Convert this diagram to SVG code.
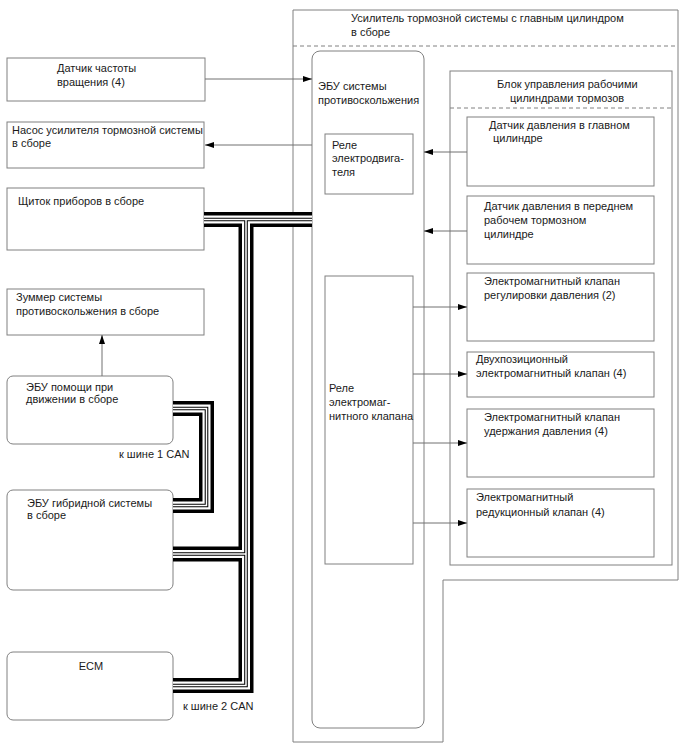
<svg xmlns="http://www.w3.org/2000/svg" width="688" height="755" viewBox="0 0 688 755">
<defs>
<style>
.b{fill:#fff;stroke:#808080;stroke-width:1}
.d{fill:none;stroke:#808080;stroke-width:1;stroke-dasharray:4 3}
.t{font-family:"Liberation Sans",Arial,sans-serif;font-size:11px;fill:#1a1a1a}
.c{fill:none;stroke:#707070;stroke-width:1}
.k1{fill:none;stroke:#000;stroke-width:15;stroke-linejoin:miter}
.k2{fill:none;stroke:#fff;stroke-width:8;stroke-linejoin:miter}
.k3{fill:none;stroke:#000;stroke-width:3.6;stroke-linejoin:miter}
.k4{fill:none;stroke:#fff;stroke-width:1.5;stroke-linejoin:miter}
</style>
<marker id="ah" markerWidth="9" markerHeight="6" refX="9" refY="3" orient="auto" markerUnits="userSpaceOnUse">
<path d="M0,0 L9,3 L0,6 Z" fill="#000"/>
</marker>
</defs>
<rect width="688" height="755" fill="#fff"/>

<g id="booster">
<path class="b" d="M293,10 H678 V580 H443 V742 H293 Z"/>
<path class="d" d="M293,46 H678"/>
<text class="t" x="351" y="22">Усилитель тормозной системы с главным цилиндром</text>
<text class="t" x="351" y="36">в сборе</text>
</g>

<g id="ecu-skid">
<rect class="b" x="312" y="51" width="112" height="677" rx="8"/>
<text class="t" x="318" y="90">ЭБУ системы</text>
<text class="t" x="318" y="104">противоскольжения</text>
</g>

<g id="brake-block">
<rect class="b" x="450" y="71" width="222" height="494"/>
<path class="d" d="M450,108 H672"/>
<text class="t" x="497" y="88">Блок управления рабочими</text>
<text class="t" x="510" y="102">цилиндрами тормозов</text>
</g>

<g id="motor-relay">
<rect class="b" x="325" y="134" width="88" height="60"/>
<text class="t" x="332" y="149">Реле</text>
<text class="t" x="332" y="162">электродвига-</text>
<text class="t" x="332" y="176">теля</text>
</g>

<g id="solenoid-relay">
<rect class="b" x="325" y="276" width="88" height="288"/>
<text class="t" x="329" y="392">Реле</text>
<text class="t" x="329" y="406">электромаг-</text>
<text class="t" x="329" y="420">нитного клапана</text>
</g>

<g id="master-sensor">
<rect class="b" x="467" y="117" width="187" height="69"/>
<text class="t" x="489" y="129">Датчик давления в главном</text>
<text class="t" x="493" y="142">цилиндре</text>
</g>

<g id="front-sensor">
<rect class="b" x="467" y="196" width="187" height="68"/>
<text class="t" x="484" y="210">Датчик давления в переднем</text>
<text class="t" x="484" y="224">рабочем тормозном</text>
<text class="t" x="484" y="238">цилиндре</text>
</g>

<g id="reg-valve">
<rect class="b" x="467" y="273" width="187" height="68"/>
<text class="t" x="484" y="285">Электромагнитный клапан</text>
<text class="t" x="484" y="299">регулировки давления (2)</text>
</g>

<g id="two-pos-valve">
<rect class="b" x="467" y="352" width="187" height="45"/>
<text class="t" x="476" y="363">Двухпозиционный</text>
<text class="t" x="476" y="377">электромагнитный клапан (4)</text>
</g>

<g id="hold-valve">
<rect class="b" x="467" y="409" width="187" height="68"/>
<text class="t" x="484" y="421">Электромагнитный клапан</text>
<text class="t" x="484" y="435">удержания давления (4)</text>
</g>

<g id="reduce-valve">
<rect class="b" x="467" y="489" width="187" height="68"/>
<text class="t" x="476" y="501">Электромагнитный</text>
<text class="t" x="476" y="516">редукционный клапан (4)</text>
</g>

<g id="speed-sensor">
<rect class="b" x="7" y="58" width="198" height="43"/>
<text class="t" x="57" y="72">Датчик частоты</text>
<text class="t" x="57" y="86">вращения (4)</text>
</g>

<g id="pump">
<rect class="b" x="7" y="122" width="197" height="46"/>
<text class="t" x="12" y="134">Насос усилителя тормозной системы</text>
<text class="t" x="12" y="147">в сборе</text>
</g>

<g id="meter">
<rect class="b" x="7" y="188" width="197" height="62"/>
<text class="t" x="18" y="205">Щиток приборов в сборе</text>
</g>

<g id="buzzer">
<rect class="b" x="7" y="289" width="197" height="46"/>
<text class="t" x="16" y="301">Зуммер системы</text>
<text class="t" x="16" y="315">противоскольжения в сборе</text>
</g>

<g id="drive-assist">
<rect class="b" x="7" y="376" width="166" height="68" rx="6"/>
<text class="t" x="26" y="391">ЭБУ помощи при</text>
<text class="t" x="26" y="403">движении в сборе</text>
</g>

<g id="hybrid">
<rect class="b" x="7" y="490" width="166" height="100" rx="6"/>
<text class="t" x="27" y="507">ЭБУ гибридной системы</text>
<text class="t" x="27" y="519">в сборе</text>
</g>

<g id="ecm">
<rect class="b" x="7" y="652" width="166" height="68" rx="6"/>
<text class="t" x="91" y="670" text-anchor="middle">ECM</text>
</g>

<g id="connectors">
<path class="c" d="M205,79 H312" marker-end="url(#ah)"/>
<path class="c" d="M312,145 H205" marker-end="url(#ah)"/>
<path class="c" d="M467,152 H424" marker-end="url(#ah)"/>
<path class="c" d="M467,231 H424" marker-end="url(#ah)"/>
<path class="c" d="M413,307 H467" marker-end="url(#ah)"/>
<path class="c" d="M413,374 H467" marker-end="url(#ah)"/>
<path class="c" d="M413,443 H467" marker-end="url(#ah)"/>
<path class="c" d="M413,523 H467" marker-end="url(#ah)"/>
<path class="c" d="M102,376 V335" marker-end="url(#ah)"/>
<g id="can-bus">
<path class="k1" d="M204,219.5 H312 M246,219.5 V685.5 H173 M173,554 H246 M173,408.5 H206.5 V505.5 H173"/>
<path class="k2" d="M204,219.5 H312 M246,219.5 V685.5 H173 M173,554 H246 M173,408.5 H206.5 V505.5 H173"/>
<path class="k3" d="M204,219.5 H312 M246,219.5 V685.5 H173 M173,554 H246 M173,408.5 H206.5 V505.5 H173"/>
<path class="k4" d="M204,219.5 H312 M246,219.5 V685.5 H173 M173,554 H246 M173,408.5 H206.5 V505.5 H173"/>
</g>
<text class="t" x="119" y="458">к шине 1 CAN</text>
<text class="t" x="183" y="710">к шине 2 CAN</text>
</g>
</svg>
